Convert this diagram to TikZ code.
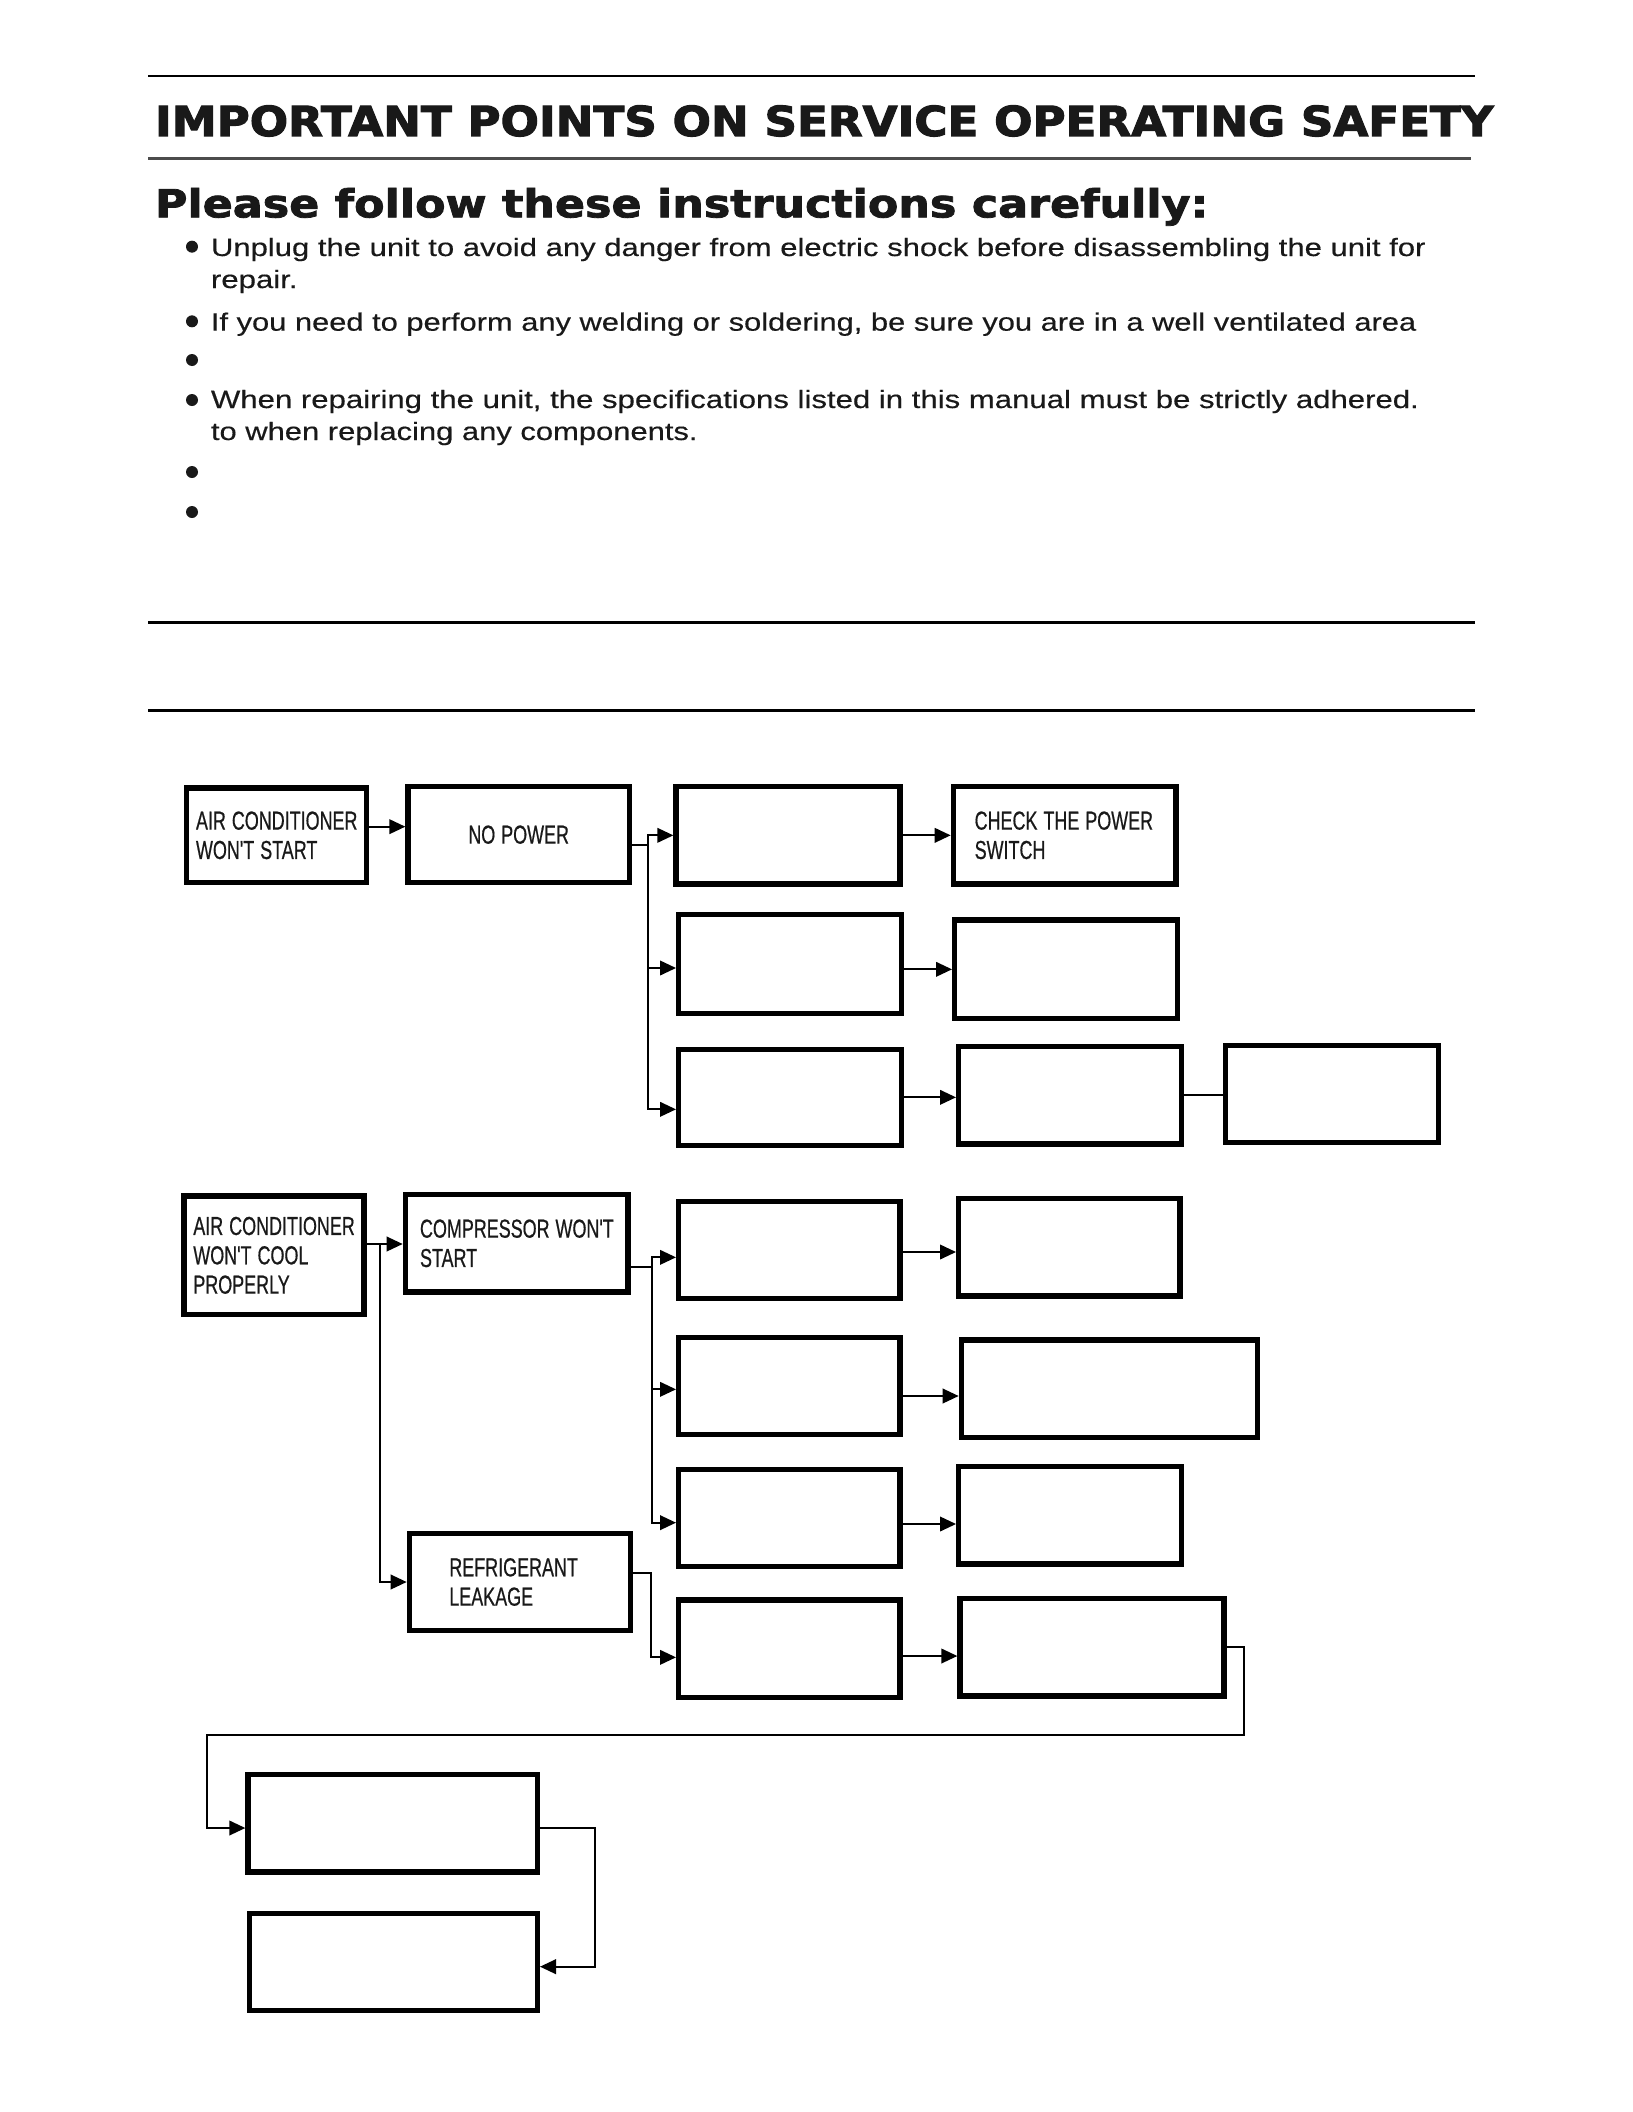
\documentclass[tikz,border=0pt]{standalone}
\usepackage{fontspec}
\usepackage{graphicx}
\usetikzlibrary{arrows.meta,calc}
\setmainfont{Liberation Sans}
\newfontfamily\hvfont{DejaVu Sans Bold}[FakeBold=2.5]
\newfontfamily\pvfont{DejaVu Sans Bold}[FakeBold=2]
\newfontfamily\arfont{Liberation Sans}[FakeBold=0.3]
\newfontfamily\nbfont{Liberation Sans}[FakeBold=0.7]
\newcommand\fitw[2]{\resizebox{#1}{\height}{#2}}
\newcommand\nr[1]{\scalebox{0.69}[1]{#1}}
\newcommand\bodyf{\arfont\fontsize{18.8}{22}\selectfont}
\newcommand\titlef{\hvfont\fontsize{31}{36}\selectfont}
\newcommand\pleasef{\pvfont\fontsize{29}{34}\selectfont}
\newcommand\bxf{\nbfont\fontsize{19.5}{22}\selectfont}
\newcommand\bx[8]{%
  \pgfmathsetmacro\bxw{#4-#2-4}%
  \pgfmathsetmacro\bxh{#5-#3-4}%
  \pgfmathsetmacro\bxt{#4-#2-4-2*#6}%
  \pgfmathsetmacro\bxcx{(#2+#4)/2}%
  \pgfmathsetmacro\bxcy{(#3+#5)/2}%
  \node[box, inner xsep=#6pt, text width=\bxt pt, minimum width=\bxw pt,
        minimum height=\bxh pt, align=#7] (#1) at (\bxcx,\bxcy) {#8};}
\tikzset{
  box/.style={draw, line width=4pt, inner ysep=0pt, font=\bxf, text=black!90},
  ln/.style={line width=1.3pt},
  arr/.style={ln, -{Triangle[length=12pt,width=11pt]}},
  txt/.style={inner sep=0pt, anchor=base west, text=black!90}
}
\begin{document}
\begin{tikzpicture}[x=1pt,y=-1pt]
\useasboundingbox (0,0) rectangle (1224,1584);
\fill[white] (0,0) rectangle (1224,1584);
% header rules
\draw[line width=1.5pt] (111,57) -- (1106,57);
\draw[line width=2.5pt, black!70] (111,119) -- (1103,119);
\draw[line width=2.2pt] (111,467) -- (1106,467);
\draw[line width=2.2pt] (111,533) -- (1106,533);
% titles
\node[txt] (title) at (116,102) {\fitw{1004pt}{\titlef IMPORTANT POINTS ON SERVICE OPERATING SAFETY}};
\node[txt] (please) at (116,163) {\fitw{790pt}{\pleasef Please follow these instructions carefully:}};
% bullets
\foreach \yy in {185,241,270,300,354,384} \fill[black!90] (144,\yy) circle (4.5);
\node[txt] (l1) at (158,192) {\fitw{911pt}{\bodyf Unplug the unit to avoid any danger from electric shock before disassembling the unit for}};
\node[txt] (l1b) at (158,216) {\fitw{65pt}{\bodyf repair.}};
\node[txt] (l2) at (158,248) {\fitw{904pt}{\bodyf If you need to perform any welding or soldering, be sure you are in a well ventilated area}};
\node[txt] (l4) at (158,306) {\fitw{906pt}{\bodyf When repairing the unit, the specifications listed in this manual must be strictly adhered.}};
\node[txt] (l4b) at (158,330) {\fitw{365pt}{\bodyf to when replacing any components.}};
% ---- flowchart row 1
\bx{a1}{138}{589}{277}{664}{7}{left}{\nr{AIR CONDITIONER}\\\nr{WON'T START}}
\bx{a2}{304}{588}{474}{664}{0}{center}{\nr{NO POWER}}
\bx{b1}{505}{588}{677}{665}{0}{center}{}
\bx{c1}{713}{588}{884}{665}{16}{left}{\nr{CHECK THE POWER}\\\nr{SWITCH}}
\bx{b2}{507}{684}{678}{762}{0}{center}{}
\bx{c2}{714}{688}{885}{766}{0}{center}{}
\bx{b3}{507}{785}{678}{861}{0}{center}{}
\bx{c3}{717}{783}{888}{860}{0}{center}{}
\bx{d3}{917}{782}{1081}{859}{0}{center}{}
% ---- flowchart row 2
\bx{e1}{136}{895}{275}{988}{7}{left}{\nr{AIR CONDITIONER}\\\nr{WON'T COOL}\\\nr{PROPERLY}}
\bx{e2}{302}{894}{473}{971}{11}{left}{\nr{COMPRESSOR WON'T}\\\nr{START}}
\bx{f1}{507}{899}{677}{976}{0}{center}{}
\bx{g1}{717}{897}{887}{974}{0}{center}{}
\bx{f2}{507}{1001}{677}{1078}{0}{center}{}
\bx{g2}{719}{1003}{945}{1080}{0}{center}{}
\bx{f3}{507}{1100}{677}{1177}{0}{center}{}
\bx{g3}{717}{1098}{888}{1175}{0}{center}{}
\bx{e3}{305}{1148}{475}{1225}{30}{left}{\nr{REFRIGERANT}\\\nr{LEAKAGE}}
\bx{f4}{507}{1198}{677}{1275}{0}{center}{}
\bx{g4}{718}{1197}{920}{1274}{0}{center}{}
\bx{h1}{184}{1329}{405}{1406}{0}{center}{}
\bx{h2}{185}{1433}{405}{1510}{0}{center}{}
% ---- connectors row 1
\coordinate (p1) at ($(a1.east)+(0,-6.5)$);
\draw[arr] (p1) -- (p1 -| a2.west);
\coordinate (s1) at ($(a2.east)+(0,8)$);
\coordinate (j1) at ($(s1)+(12,0)$);
\draw[ln] (s1) -- (j1);
\draw[arr] (j1) |- (b1.west);
\draw[arr] (j1) |- ($(b2.west)+(0,3)$);
\draw[arr] (j1) |- ($(b3.west)+(0,9)$);
\draw[arr] (b1.east) -- (b1.east -| c1.west);
\coordinate (q2) at ($(b2.east)+(0,4)$);
\draw[arr] (q2) -- (q2 -| c2.west);
\draw[arr] (b3.east) -- (b3.east -| c3.west);
\draw[ln] (c3.east) -- (c3.east -| d3.west);
% ---- connectors row 2
\coordinate (p2) at ($(e1.east)+(0,-8.5)$);
\draw[arr] (p2) -- (p2 -| e2.west);
\coordinate (j3) at ($(p2)+(10,0)$);
\draw[arr] (j3) |- (e3.west);
\coordinate (s2) at ($(e2.east)+(0,17.5)$);
\coordinate (j2) at ($(s2)+(16,0)$);
\draw[ln] (s2) -- (j2);
\draw[arr] (j2) |- ($(f1.west)+(0,5.5)$);
\draw[arr] (j2) |- ($(f2.west)+(0,2.5)$);
\draw[arr] (j2) |- ($(f3.west)+(0,3.5)$);
\coordinate (s4) at ($(e3.east)+(0,-6.5)$);
\coordinate (j4) at ($(s4)+(13,0)$);
\draw[arr] (s4) -- (j4) |- ($(f4.west)+(0,6.5)$);
\coordinate (q1) at ($(f1.east)+(0,1.5)$);
\draw[arr] (q1) -- (q1 -| g1.west);
\coordinate (q3) at ($(f2.east)+(0,7.5)$);
\draw[arr] (q3) -- (q3 -| g2.west);
\coordinate (q4) at ($(f3.east)+(0,4.5)$);
\draw[arr] (q4) -- (q4 -| g3.west);
\coordinate (q5) at ($(f4.east)+(0,5.5)$);
\draw[arr] (q5) -- (q5 -| g4.west);
% ---- loops to bottom boxes
\coordinate (k1) at ($(g4.east)+(13,0)$);
\coordinate (k2) at (155,1301);
\draw[arr] (g4.east) -- (k1) |- (k2) |- ($(h1.west)+(0,3.5)$);
\coordinate (s5) at ($(h1.east)+(0,3.5)$);
\coordinate (k3) at ($(s5)+(41,0)$);
\draw[arr] (s5) -- (k3) |- ($(h2.east)+(0,3.5)$);
\end{tikzpicture}
\end{document}
